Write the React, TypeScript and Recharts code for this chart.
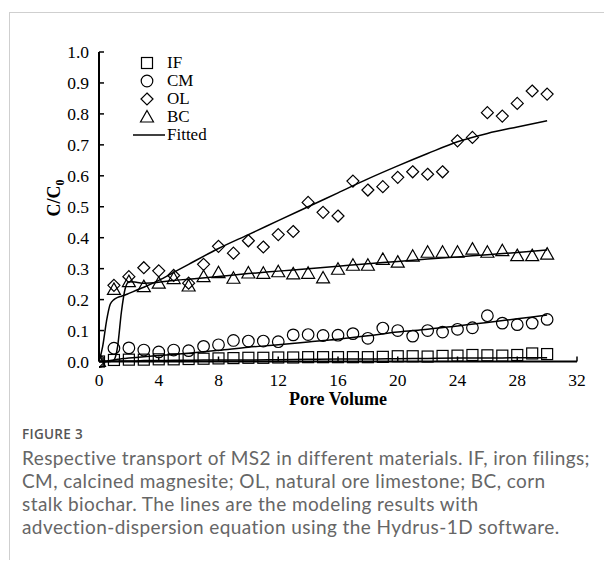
import React from "react";
import { ComposedChart, Line, Scatter, XAxis, YAxis, Legend } from "recharts";

// observed points (pore volume vs C/C0)
const pvObs = [0, 1, 2, 3, 4, 5, 6, 7, 8, 9, 10, 11, 12, 13, 14, 15, 16, 17, 18, 19, 20, 21, 22, 23, 24, 25, 26, 27, 28, 29, 30];
const ifObs = [0, 0.005, 0.006, 0.006, 0.007, 0.007, 0.008, 0.009, 0.01, 0.011, 0.012, 0.012, 0.013, 0.013, 0.014, 0.014, 0.014, 0.014, 0.014, 0.015, 0.017, 0.017, 0.016, 0.018, 0.019, 0.021, 0.02, 0.019, 0.021, 0.026, 0.024];
const cmObs = [0, 0.043, 0.044, 0.037, 0.031, 0.037, 0.035, 0.049, 0.054, 0.068, 0.066, 0.066, 0.064, 0.086, 0.087, 0.084, 0.085, 0.09, 0.075, 0.108, 0.1, 0.082, 0.1, 0.095, 0.104, 0.109, 0.148, 0.124, 0.119, 0.124, 0.136];
const olObs = [0, 0.246, 0.274, 0.303, 0.293, 0.278, 0.253, 0.314, 0.372, 0.35, 0.39, 0.37, 0.41, 0.42, 0.514, 0.482, 0.47, 0.583, 0.554, 0.565, 0.595, 0.613, 0.605, 0.613, 0.713, 0.724, 0.804, 0.793, 0.834, 0.874, 0.864];
const bcObs = [0, 0.233, 0.258, 0.242, 0.253, 0.268, 0.244, 0.274, 0.287, 0.269, 0.286, 0.285, 0.29, 0.283, 0.285, 0.27, 0.298, 0.311, 0.311, 0.33, 0.321, 0.34, 0.353, 0.353, 0.353, 0.363, 0.353, 0.358, 0.342, 0.342, 0.347];

// fitted curves (Hydrus-1D)
const pvFit = [0, 0.25, 0.5, 0.75, 1, 1.25, 1.5, 1.75, 2, 2.5, 3, 4, 5, 6, 8, 10, 12, 14, 16, 18, 20, 22, 24, 26, 28, 30];
const ifFit = [0, 0, 0, 0.001, 0.001, 0.001, 0.002, 0.002, 0.002, 0.002, 0.003, 0.003, 0.004, 0.004, 0.005, 0.005, 0.006, 0.007, 0.008, 0.008, 0.009, 0.01, 0.011, 0.011, 0.012, 0.012];
const cmFit = [0, 0, 0.001, 0.003, 0.005, 0.007, 0.009, 0.01, 0.011, 0.013, 0.015, 0.019, 0.023, 0.027, 0.036, 0.046, 0.054, 0.063, 0.072, 0.083, 0.095, 0.104, 0.115, 0.126, 0.138, 0.15];
const olFit = [0, 0.05, 0.13, 0.185, 0.2, 0.207, 0.211, 0.215, 0.22, 0.23, 0.24, 0.262, 0.288, 0.314, 0.365, 0.41, 0.455, 0.5, 0.545, 0.59, 0.632, 0.672, 0.71, 0.737, 0.758, 0.778];
const bcFit = [0, 0, 0, 0, 0.005, 0.05, 0.16, 0.235, 0.258, 0.256, 0.253, 0.256, 0.262, 0.266, 0.275, 0.284, 0.292, 0.3, 0.308, 0.316, 0.323, 0.331, 0.338, 0.345, 0.352, 0.36];

const xTicks = [0, 4, 8, 12, 16, 20, 24, 28, 32];
const yTicks = [0, 0.1, 0.2, 0.3, 0.4, 0.5, 0.6, 0.7, 0.8, 0.9, 1.0];
const legendNames = ["IF", "CM", "OL", "BC", "Fitted"];
const captionLines = [
  "Respective transport of MS2 in different materials. IF, iron filings;",
  "CM, calcined magnesite; OL, natural ore limestone; BC, corn",
  "stalk biochar. The lines are the modeling results with",
  "advection-dispersion equation using the Hydrus-1D software.",
];

const toPts = (xs: number[], ys: number[]) => xs.map((x, i) => ({ x, y: ys[i] }));

const serif = "'Liberation Serif', 'Times New Roman', serif";
const ink = "#000";

const Square = ({ cx, cy }: any) => (
  <rect x={cx - 5.5} y={cy - 5.5} width={11} height={11} fill="none" stroke={ink} strokeWidth={1.2} />
);
const Circle = ({ cx, cy }: any) => <circle cx={cx} cy={cy} r={5.8} fill="none" stroke={ink} strokeWidth={1.2} />;
const Diamond = ({ cx, cy }: any) => (
  <polygon points={`${cx},${cy - 6} ${cx + 6},${cy} ${cx},${cy + 6} ${cx - 6},${cy}`} fill="none" stroke={ink} strokeWidth={1.2} />
);
const Triangle = ({ cx, cy }: any) => (
  <polygon points={`${cx},${cy - 6.5} ${cx + 6.5},${cy + 5} ${cx - 6.5},${cy + 5}`} fill="none" stroke={ink} strokeWidth={1.2} />
);

const XTick = ({ x, y, payload }: any) => (
  <g>
    <line x1={x} x2={x} y1={y - 8} y2={y - 13} stroke={ink} strokeWidth={1.5} />
    <text x={x} y={y + 16} textAnchor="middle" fontFamily={serif} fontSize={17.5} fill={ink}>
      {payload.value}
    </text>
  </g>
);

const YTick = ({ x, y, payload }: any) => (
  <g>
    <line x1={x + 10} x2={x + 15} y1={y} y2={y} stroke={ink} strokeWidth={1.5} />
    <text x={x} y={y + 6} textAnchor="end" fontFamily={serif} fontSize={17.5} fill={ink}>
      {payload.value.toFixed(1)}
    </text>
  </g>
);

const marks = [Square, Circle, Diamond, Triangle];

const LegendBox = () => (
  <div style={{ fontFamily: serif, fontSize: 17, lineHeight: "18px", color: ink }}>
    {legendNames.map((name, i) => (
      <div key={name} style={{ display: "flex", alignItems: "center", height: 18 }}>
        <svg width={34} height={18}>
          {i < 4 ? React.createElement(marks[i], { cx: 15, cy: 9 }) : <line x1={1} x2={33} y1={9} y2={9} stroke={ink} strokeWidth={1.5} />}
        </svg>
        <span style={{ marginLeft: 1 }}>{name}</span>
      </div>
    ))}
  </div>
);

export default function App() {
  return (
    <div style={{ position: "relative", width: 596, height: 552 }}>
      <div
        style={{
          position: "absolute",
          left: 1,
          top: 4,
          width: 603,
          height: 556,
          borderLeft: "1px solid #cfcfcf",
          borderTop: "1px solid #cfcfcf",
          boxSizing: "border-box",
        }}
      />
      <div style={{ position: "absolute", left: 0, top: 0 }}>
        <ComposedChart width={596} height={410} margin={{ top: 44, right: 27, left: 31, bottom: 16.5 }}>
          <XAxis
            dataKey="x"
            type="number"
            domain={[0, 32]}
            ticks={xTicks}
            height={40}
            tickSize={0}
            tickMargin={8}
            tick={<XTick />}
            axisLine={{ stroke: ink, strokeWidth: 2 }}
            tickLine={false}
            allowDataOverflow
            label={() => (
              <text x={330} y={397} textAnchor="middle" fontFamily={serif} fontSize={18} fontWeight="bold" fill={ink}>
                Pore Volume
              </text>
            )}
          />
          <YAxis
            dataKey="y"
            type="number"
            domain={[0, 1]}
            ticks={yTicks}
            width={60}
            tickSize={0}
            tickMargin={10}
            tick={<YTick />}
            axisLine={{ stroke: ink, strokeWidth: 2 }}
            tickLine={false}
            label={() => (
              <text
                transform="translate(52,190) rotate(-90)"
                textAnchor="middle"
                fontFamily={serif}
                fontSize={18}
                fontWeight="bold"
                fill={ink}
              >
                C/C<tspan fontSize={12} dy={4}>0</tspan>
              </text>
            )}
          />
          <Legend
            layout="vertical"
            align="center"
            verticalAlign="middle"
            content={<LegendBox />}
            wrapperStyle={{ position: "absolute", left: 124, top: 46, width: 110 }}
          />
          <Line data={toPts(pvFit, ifFit)} dataKey="y" type="monotone" stroke={ink} strokeWidth={1.5} dot={false} isAnimationActive={false} legendType="none" />
          <Line data={toPts(pvFit, cmFit)} dataKey="y" type="monotone" stroke={ink} strokeWidth={1.5} dot={false} isAnimationActive={false} legendType="none" />
          <Line data={toPts(pvFit, olFit)} dataKey="y" type="monotone" stroke={ink} strokeWidth={1.5} dot={false} isAnimationActive={false} legendType="none" />
          <Line data={toPts(pvFit, bcFit)} dataKey="y" type="monotone" stroke={ink} strokeWidth={1.5} dot={false} isAnimationActive={false} legendType="none" />
          <Scatter name="IF" data={toPts(pvObs, ifObs)} dataKey="y" shape={Square} isAnimationActive={false} />
          <Scatter name="CM" data={toPts(pvObs, cmObs)} dataKey="y" shape={Circle} isAnimationActive={false} />
          <Scatter name="OL" data={toPts(pvObs, olObs)} dataKey="y" shape={Diamond} isAnimationActive={false} />
          <Scatter name="BC" data={toPts(pvObs, bcObs)} dataKey="y" shape={Triangle} isAnimationActive={false} />
        </ComposedChart>
      </div>
      <div
        style={{
          position: "absolute",
          left: 14,
          top: 417,
          fontFamily: "'Open Sans', sans-serif",
          fontSize: 13.5,
          fontWeight: 600,
          color: "#555",
          letterSpacing: 0.3,
        }}
      >
        FIGURE 3
      </div>
      {captionLines.map((line, i) => (
        <div
          key={i}
          style={{
            position: "absolute",
            left: 14,
            top: 438 + i * 23,
            height: 23,
            fontFamily: "Lato, sans-serif",
            fontSize: 19,
            lineHeight: "23px",
            color: "#666",
            whiteSpace: "nowrap",
            letterSpacing: 0.42,
          }}
        >
          {line}
        </div>
      ))}
    </div>
  );
}
